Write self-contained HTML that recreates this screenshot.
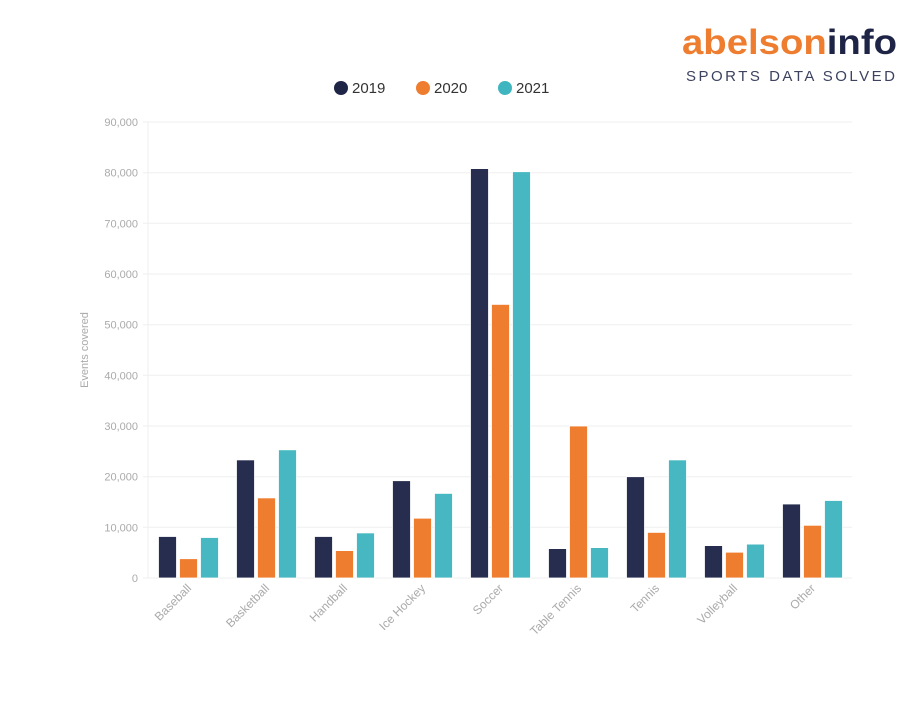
<!DOCTYPE html>
<html><head><style>body{margin:0;background:#fff}</style></head><body>
<svg width="924" height="718" xmlns="http://www.w3.org/2000/svg" font-family="Liberation Sans, sans-serif">
<rect width="924" height="718" fill="#fff"/>
<text x="682" y="54" font-size="35" font-weight="bold" fill="#ee7d2f" textLength="215" lengthAdjust="spacingAndGlyphs">abelson<tspan fill="#1e2445">info</tspan></text>
<text x="686" y="81" font-size="15" fill="#3c4260" textLength="209" lengthAdjust="spacing">SPORTS DATA SOLVED</text>
<g font-size="15" fill="#333">
<circle cx="341" cy="88" r="7" fill="#1f2547"/><text x="352" y="93">2019</text>
<circle cx="423" cy="88" r="7" fill="#ee7d2f"/><text x="434" y="93">2020</text>
<circle cx="505" cy="88" r="7" fill="#3fb6bf"/><text x="516" y="93">2021</text>
</g>
<g stroke="#efefef" stroke-width="1">
<line x1="143" x2="852" y1="122" y2="122"/><line x1="143" x2="852" y1="172.7" y2="172.7"/>
<line x1="143" x2="852" y1="223.3" y2="223.3"/><line x1="143" x2="852" y1="274" y2="274"/>
<line x1="143" x2="852" y1="324.7" y2="324.7"/><line x1="143" x2="852" y1="375.3" y2="375.3"/>
<line x1="143" x2="852" y1="426" y2="426"/><line x1="143" x2="852" y1="476.7" y2="476.7"/>
<line x1="143" x2="852" y1="527.3" y2="527.3"/><line x1="143" x2="852" y1="578" y2="578"/>
<line x1="148" x2="148" y1="122" y2="578"/>
</g>
<g font-size="11" fill="#aaa" text-anchor="end">
<text x="138" y="126">90,000</text><text x="138" y="176.7">80,000</text><text x="138" y="227.3">70,000</text>
<text x="138" y="278">60,000</text><text x="138" y="328.7">50,000</text><text x="138" y="379.3">40,000</text>
<text x="138" y="430">30,000</text><text x="138" y="480.7">20,000</text><text x="138" y="531.3">10,000</text>
<text x="138" y="582">0</text>
</g>
<text transform="translate(88,350) rotate(-90)" font-size="11" fill="#aaa" text-anchor="middle">Events covered</text>
<g stroke="#fff" stroke-width="0.8">
<g fill="#272d4f">
<rect x="158.5" y="536.5" width="18" height="41.5"/>
<rect x="236.5" y="459.9" width="18" height="118.1"/>
<rect x="314.5" y="536.5" width="18" height="41.5"/>
<rect x="392.5" y="480.7" width="18" height="97.3"/>
<rect x="470.5" y="168.6" width="18" height="409.4"/>
<rect x="548.5" y="548.6" width="18" height="29.4"/>
<rect x="626.5" y="476.7" width="18" height="101.3"/>
<rect x="704.5" y="545.6" width="18" height="32.4"/>
<rect x="782.5" y="504" width="18" height="74"/>
</g>
<g fill="#ee7d2f">
<rect x="179.5" y="558.7" width="18" height="19.3"/>
<rect x="257.5" y="497.9" width="18" height="80.1"/>
<rect x="335.5" y="550.6" width="18" height="27.4"/>
<rect x="413.5" y="518.2" width="18" height="59.8"/>
<rect x="491.5" y="304.4" width="18" height="273.6"/>
<rect x="569.5" y="426" width="18" height="152"/>
<rect x="647.5" y="532.4" width="18" height="45.6"/>
<rect x="725.5" y="552.2" width="18" height="25.8"/>
<rect x="803.5" y="525.3" width="18" height="52.7"/>
</g>
<g fill="#47b8c1">
<rect x="200.5" y="537.5" width="18" height="40.5"/>
<rect x="278.5" y="449.8" width="18" height="128.2"/>
<rect x="356.5" y="532.9" width="18" height="45.1"/>
<rect x="434.5" y="493.4" width="18" height="84.6"/>
<rect x="512.5" y="171.7" width="18" height="406.3"/>
<rect x="590.5" y="547.6" width="18" height="30.4"/>
<rect x="668.5" y="459.9" width="18" height="118.1"/>
<rect x="746.5" y="544.1" width="18" height="33.9"/>
<rect x="824.5" y="500.5" width="18" height="77.5"/>
</g>
</g>
<g font-size="12" fill="#aaa" text-anchor="end">
<text transform="translate(192,589) rotate(-45)">Baseball</text>
<text transform="translate(270,589) rotate(-45)">Basketball</text>
<text transform="translate(348,589) rotate(-45)">Handball</text>
<text transform="translate(426,589) rotate(-45)">Ice Hockey</text>
<text transform="translate(504,589) rotate(-45)">Soccer</text>
<text transform="translate(582,589) rotate(-45)">Table Tennis</text>
<text transform="translate(660,589) rotate(-45)">Tennis</text>
<text transform="translate(738,589) rotate(-45)">Volleyball</text>
<text transform="translate(816,589) rotate(-45)">Other</text>
</g>
</svg>
</body></html>
